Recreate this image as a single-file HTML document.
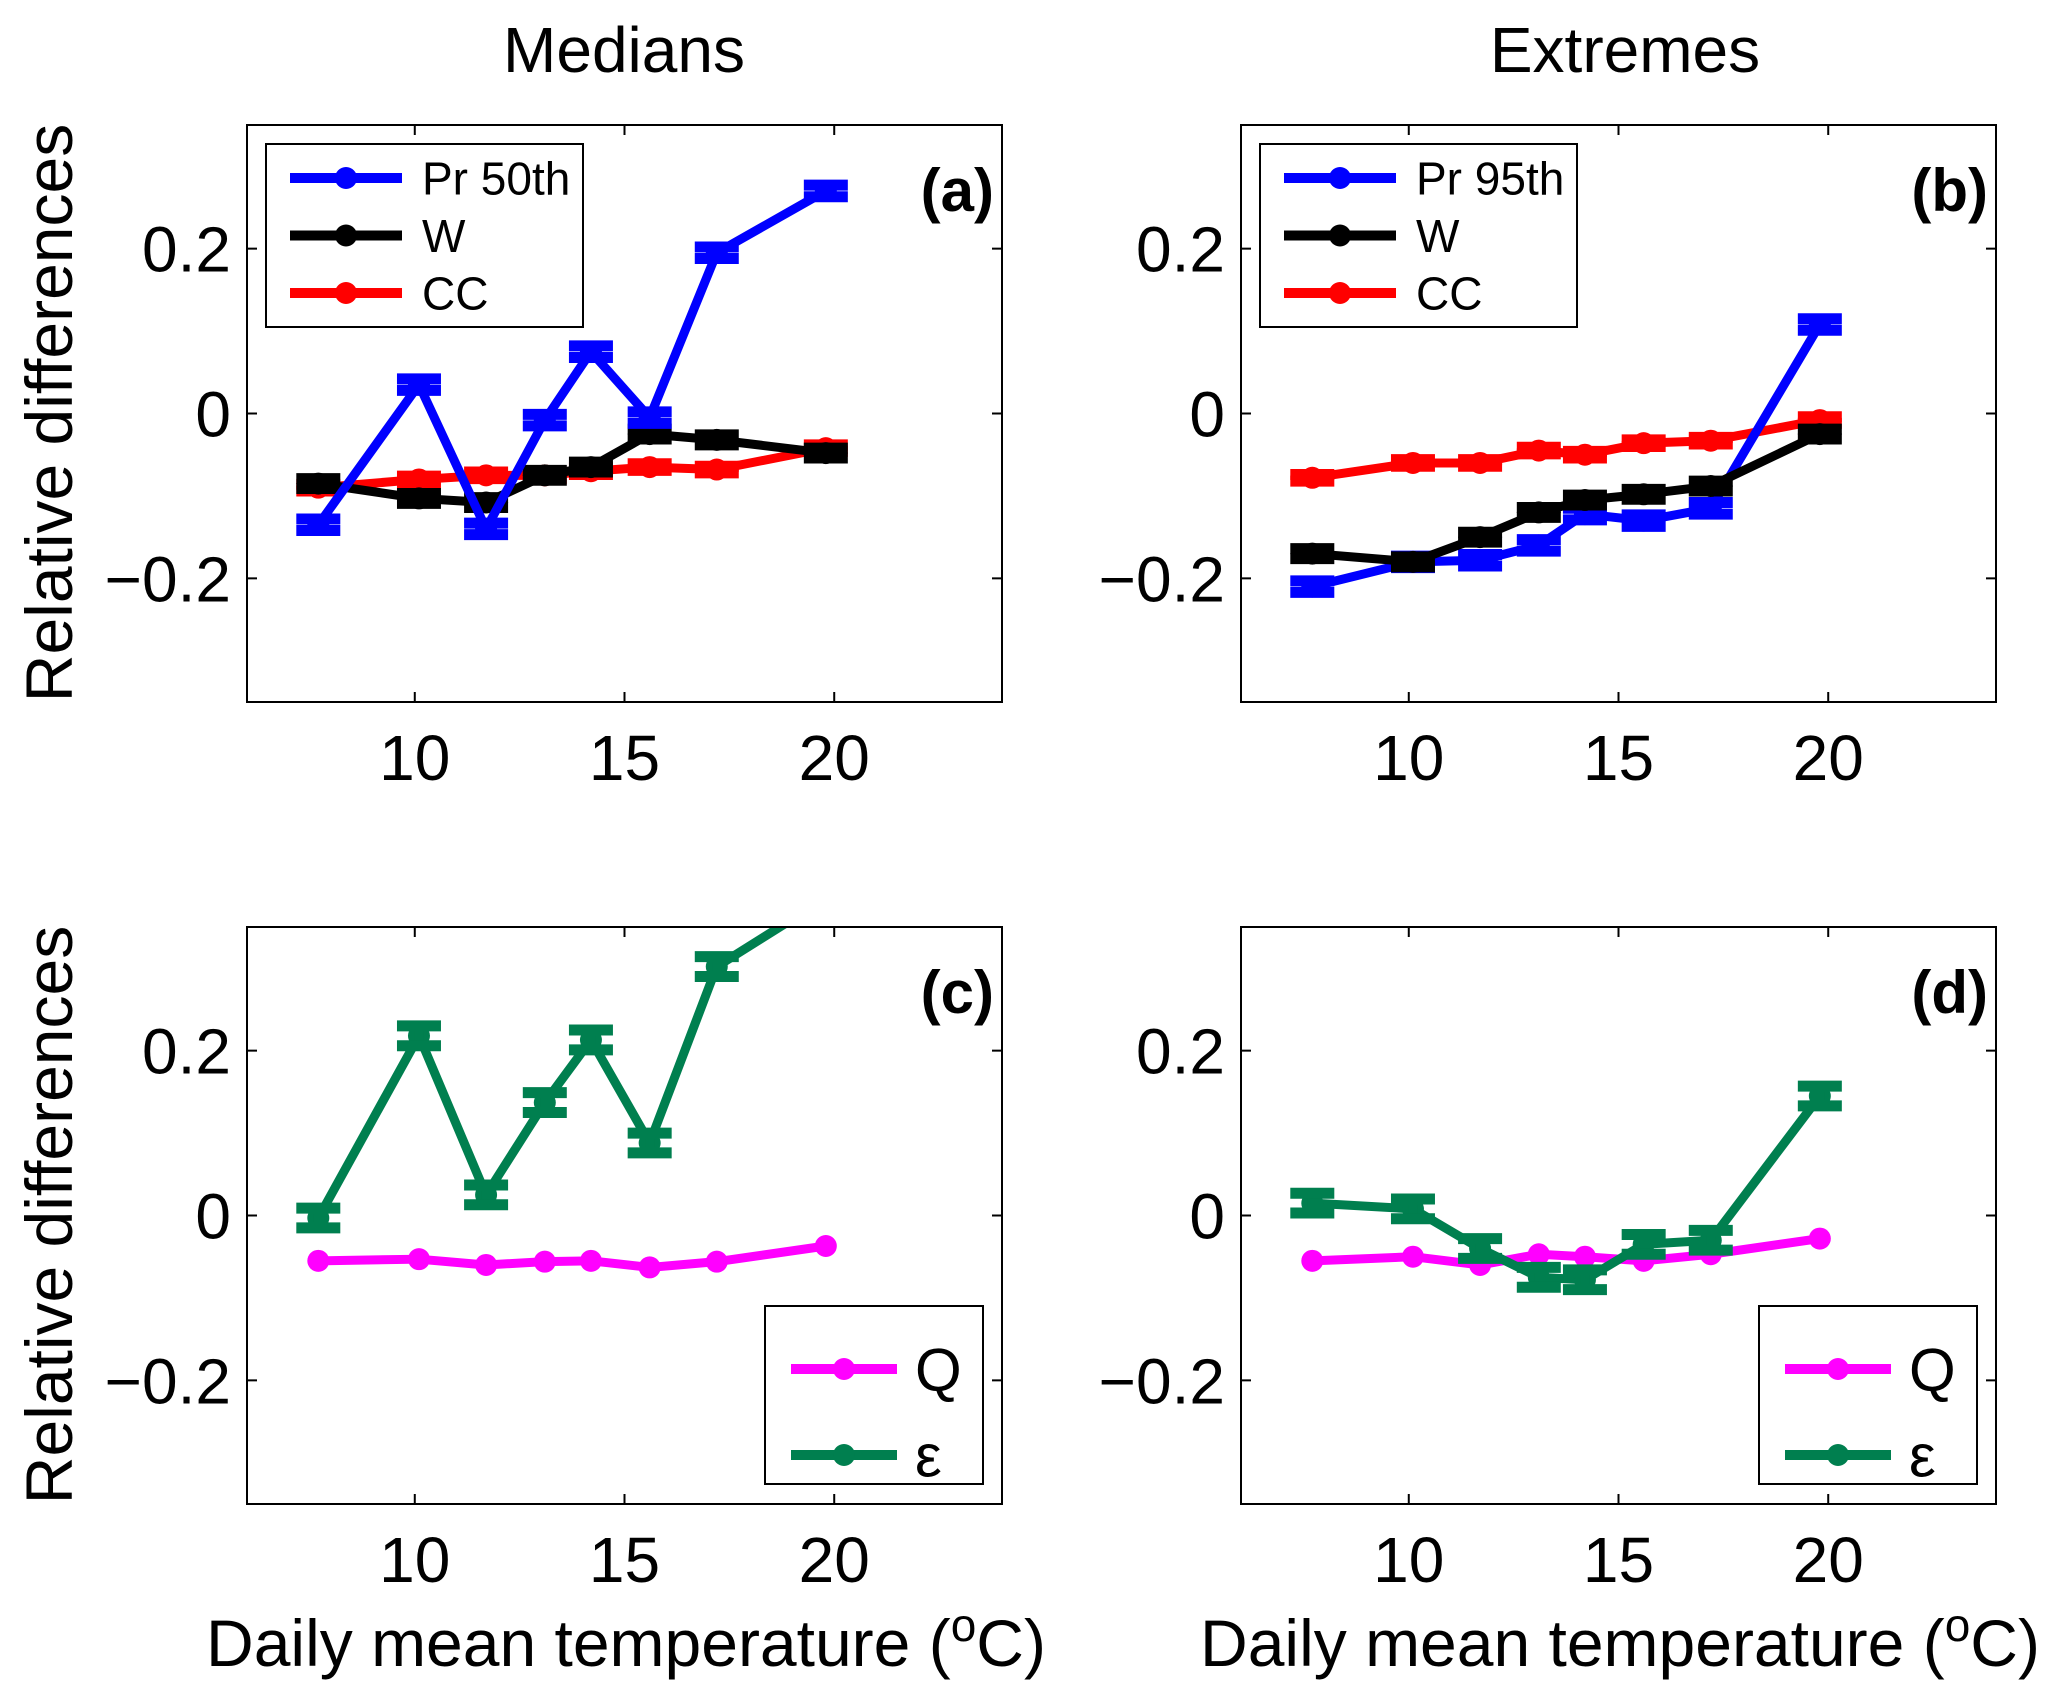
<!DOCTYPE html>
<html><head><meta charset="utf-8"><style>
html,body{margin:0;padding:0;background:#fff}
svg{display:block;font-family:"Liberation Sans",sans-serif}
</style></head><body>
<svg id="fig" width="2068" height="1702" viewBox="0 0 2068 1702" xmlns="http://www.w3.org/2000/svg"></svg>
<script>
const xTicks=[10,15,20];
const yTicks=[-0.2,0,0.2];
const yTickLabels=["\u22120.2","0","0.2"];
const temps=[7.7,10.1,11.7,13.1,14.2,15.6,17.2,19.8];
const aPr50=[-0.135,0.035,-0.14,-0.008,0.075,-0.005,0.195,0.27];
const aW=[-0.085,-0.103,-0.108,-0.075,-0.065,-0.025,-0.032,-0.048];
const aCC=[-0.09,-0.08,-0.075,-0.075,-0.07,-0.065,-0.068,-0.042];
const bPr95=[-0.21,-0.18,-0.178,-0.16,-0.122,-0.13,-0.115,0.108];
const bW=[-0.17,-0.18,-0.15,-0.12,-0.105,-0.098,-0.088,-0.025];
const bCC=[-0.078,-0.06,-0.06,-0.045,-0.05,-0.036,-0.033,-0.008];
const cEps=[-0.003,0.218,0.025,0.137,0.213,0.088,0.302,0.385];
const cQ=[-0.055,-0.053,-0.06,-0.056,-0.055,-0.063,-0.056,-0.037];
const dEps=[0.015,0.008,-0.04,-0.075,-0.078,-0.035,-0.03,0.145];
const dQ=[-0.055,-0.05,-0.06,-0.047,-0.05,-0.055,-0.047,-0.028];

const NS="http://www.w3.org/2000/svg";
const svg=document.getElementById('fig');
function mk(tag,attrs,parent){const e=document.createElementNS(NS,tag);for(const k in attrs)e.setAttribute(k,attrs[k]);(parent||svg).appendChild(e);return e;}
const XMIN=6,XMAX=24,YMIN=-0.35,YMAX=0.35;
let clipId=0;
function panel(name,L,T,W,H,series,label,legend){
  const g=mk('g',{});
  
  
  const sx=v=>L+(v-XMIN)/(XMAX-XMIN)*W;
  const sy=v=>T+(YMAX-v)/(YMAX-YMIN)*H;
  const cid='clip'+(clipId++);
  const cp=mk('clipPath',{id:cid},g);mk('rect',{x:L,y:T,width:W,height:H},cp);
  xTicks.forEach(t=>{
    mk('line',{x1:sx(t),x2:sx(t),y1:T+H,y2:T+H-10,stroke:'#000','stroke-width':2},g);
    mk('line',{x1:sx(t),x2:sx(t),y1:T,y2:T+10,stroke:'#000','stroke-width':2},g);
    const tx=mk('text',{x:sx(t),y:T+H+78,'font-size':64,'text-anchor':'middle'},g);
    tx.textContent=t;
    
    
  });
  yTicks.forEach((t,i)=>{
    mk('line',{x1:L,x2:L+10,y1:sy(t),y2:sy(t),stroke:'#000','stroke-width':2},g);
    mk('line',{x1:L+W,x2:L+W-10,y1:sy(t),y2:sy(t),stroke:'#000','stroke-width':2},g);
    const tx=mk('text',{x:L-16,y:sy(t)+23,'font-size':64,'text-anchor':'end'},g);
    tx.textContent=yTickLabels[i];
    
    
  });
  const dg=mk('g',{'clip-path':'url(#'+cid+')'},g);
  series.forEach(s=>{
    const sg=mk('g',{},dg);
    
    
    const pts=temps.map((x,i)=>sx(x)+','+sy(s.vals[i])).join(' ');
    mk('polyline',{points:pts,fill:'none',stroke:s.color,'stroke-width':9,'stroke-linejoin':'round'},sg);
    temps.forEach((x,i)=>{
      const cx=sx(x),cy=sy(s.vals[i]);
      mk('circle',{cx:cx,cy:cy,r:11,fill:s.color},sg);
      if(s.err){
        const e=s.err;
        mk('line',{x1:cx,x2:cx,y1:sy(s.vals[i]+e),y2:sy(s.vals[i]-e),stroke:s.color,'stroke-width':9},sg);
        mk('line',{x1:cx-22,x2:cx+22,y1:sy(s.vals[i]+e),y2:sy(s.vals[i]+e),stroke:s.color,'stroke-width':11},sg);
        mk('line',{x1:cx-22,x2:cx+22,y1:sy(s.vals[i]-e),y2:sy(s.vals[i]-e),stroke:s.color,'stroke-width':11},sg);
      }
    });
  });
  mk('rect',{x:L,y:T,width:W,height:H,fill:'none',stroke:'#000','stroke-width':2},g);
  const lb=mk('text',{x:L+W-8,y:T+86,'font-size':60,'font-weight':'bold','text-anchor':'end'},g);
  lb.textContent=label;
  
  
  const lg=mk('g',{},g);
  
  
  mk('rect',{x:legend.x,y:legend.y,width:legend.w,height:legend.h,fill:'#fff',stroke:'#000','stroke-width':2},lg);
  legend.items.forEach((it,i)=>{
    const yy=legend.y0+i*legend.dy;
    const eg=mk('g',{},lg);
    
    
    mk('line',{x1:legend.lx1,x2:legend.lx2,y1:yy,y2:yy,stroke:it.color,'stroke-width':10},eg);
    mk('circle',{cx:(legend.lx1+legend.lx2)/2,cy:yy,r:11,fill:it.color},eg);
    const t=mk('text',{x:legend.tx,y:yy+legend.fs*0.36,'font-size':legend.fs},eg);
    t.textContent=it.text;
  });
}
const blue='#0000ff',red='#ff0000',mag='#ff00ff',grn='#007f4f';
function legAB(L,T,label){return {x:L+19,y:T+19,w:317,h:183,y0:T+53,dy:57.5,lx1:L+43,lx2:L+155,tx:L+175,fs:46,
  items:[{text:label,color:blue},{text:'W',color:'#000'},{text:'CC',color:red}]};}
function legCD(L,T){return {x:L+518,y:T+379,w:218,h:178,y0:T+442,dy:86,lx1:L+544,lx2:L+650,tx:L+668,fs:60,
  items:[{text:'Q',color:mag},{text:'\u03b5',color:grn}]};}
const W0=755,H0=577;
panel('panel-a',247,125,W0,H0,[{name:'series-cc',vals:aCC,color:red,err:0.004},{name:'series-w',vals:aW,color:'#000',err:0.006},{name:'series-pr50',vals:aPr50,color:blue,err:0.007}],'(a)',legAB(247,125,'Pr 50th'));
panel('panel-b',1241,125,W0,H0,[{name:'series-cc',vals:bCC,color:red,err:0.004},{name:'series-pr95',vals:bPr95,color:blue,err:0.007},{name:'series-w',vals:bW,color:'#000',err:0.006}],'(b)',legAB(1241,125,'Pr 95th'));
panel('panel-c',247,927,W0,H0,[{name:'series-q',vals:cQ,color:mag,err:0},{name:'series-epsilon',vals:cEps,color:grn,err:0.012}],'(c)',legCD(247,927));
panel('panel-d',1241,927,W0,H0,[{name:'series-q',vals:dQ,color:mag,err:0},{name:'series-epsilon',vals:dEps,color:grn,err:0.012}],'(d)',legCD(1241,927));
function txt(name,s,attrs){const t=mk('text',attrs);t.textContent=s;return t;}
txt('title-medians','Medians',{x:624,y:72,'font-size':64,'text-anchor':'middle'});
txt('title-extremes','Extremes',{x:1625,y:72,'font-size':64,'text-anchor':'middle'});
txt('y-axis-title','Relative differences',{x:0,y:0,'font-size':66,'text-anchor':'middle',transform:'translate(72,413) rotate(-90)'});
txt('y-axis-title','Relative differences',{x:0,y:0,'font-size':66,'text-anchor':'middle',transform:'translate(72,1215) rotate(-90)'});
const xl1=txt('x-axis-title','',{x:626,y:1666,'font-size':66,'text-anchor':'middle'});
xl1.innerHTML='Daily mean temperature (<tspan dy="-25" font-size="46">o</tspan><tspan dy="25">C)</tspan>';
const xl2=txt('x-axis-title','',{x:1620,y:1666,'font-size':66,'text-anchor':'middle'});
xl2.innerHTML='Daily mean temperature (<tspan dy="-25" font-size="46">o</tspan><tspan dy="25">C)</tspan>';
</script>
</body></html>
